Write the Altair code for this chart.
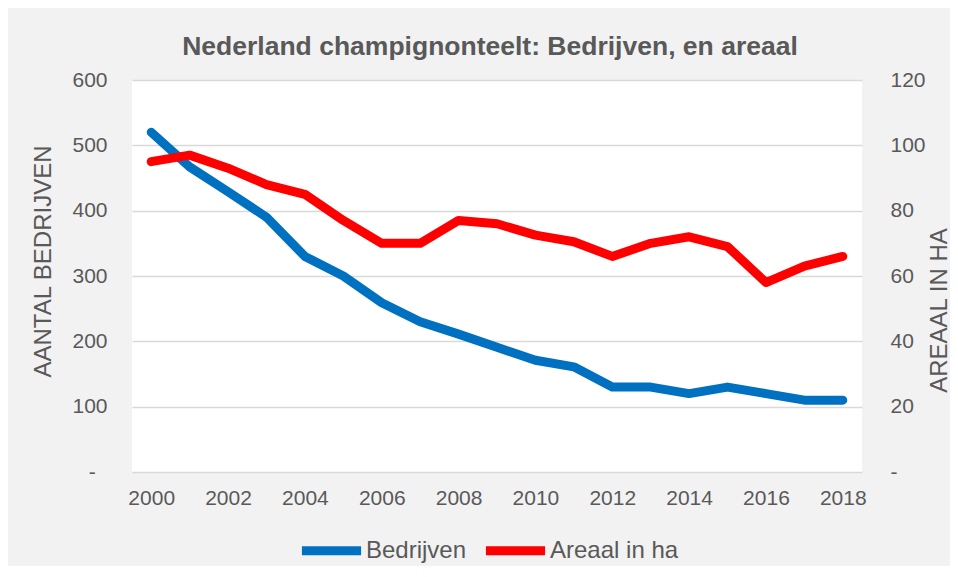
import altair as alt
import pandas as pd

years = list(range(2000, 2019))
bedrijven = [520, 467, 429, 390, 330, 300, 259, 230, 211, 191, 171, 161, 130, 130, 120, 130, 120, 110, 110]
areaal = [95, 97, 93, 88, 85, 77, 70, 70, 77, 76, 72.5, 70.5, 66, 70, 72, 69, 58, 63, 66]
series_names = ["Bedrijven", "Areaal in ha"]
series_colors = ["#0070c0", "#ff0000"]
x_ticks = list(range(2000, 2019, 2))
left_ticks = [0, 100, 200, 300, 400, 500, 600]
right_ticks = [0, 20, 40, 60, 80, 100, 120]

df = pd.DataFrame({"year": years, "bedrijven": bedrijven, "areaal": areaal})

FONT = "Liberation Sans"
GRAY = "#595959"

color = alt.Color(
    "series:N",
    scale=alt.Scale(domain=series_names, range=series_colors),
    legend=alt.Legend(
        title=None,
        orient="none",
        legendX=165,
        legendY=436,
        direction="horizontal",
        symbolType="stroke",
        symbolStrokeWidth=9,
        symbolSize=3500,
        labelFontSize=24,
        labelFont=FONT,
        labelColor=GRAY,
        labelOffset=0,
        columnPadding=0,
    ),
)

x = alt.X(
    "year:Q",
    scale=alt.Scale(domain=[1999.5, 2018.5], nice=False, zero=False),
    axis=alt.Axis(
        values=x_ticks, format="d", title=None, grid=False, domain=False,
        ticks=False, labelPadding=15, labelFontSize=21, labelColor=GRAY,
        labelFont=FONT,
    ),
)

blue = (
    alt.Chart(df)
    .transform_calculate(series="'Bedrijven'")
    .mark_line(strokeWidth=9, strokeCap="round", strokeJoin="round")
    .encode(
        x=x,
        y=alt.Y(
            "bedrijven:Q",
            scale=alt.Scale(domain=[0, 600], nice=False),
            axis=alt.Axis(
                values=left_ticks, title="AANTAL BEDRIJVEN", orient="left",
                grid=True, gridColor="#d9d9d9", gridWidth=1.5, domain=False,
                ticks=False, labelPadding=25, labelFontSize=21, labelColor=GRAY,
                labelFont=FONT,
                labelExpr="datum.value == 0 ? '-\u00a0\u00a0\u200b' : datum.label",
                titleFontSize=24, titleFontWeight="normal", titleColor=GRAY,
                titleFont=FONT, titleAngle=270, titleX=-89, titleY=181,
                titleAlign="center", titleBaseline="middle",
            ),
        ),
        color=color,
    )
)

red = (
    alt.Chart(df)
    .transform_calculate(series="'Areaal in ha'")
    .mark_line(strokeWidth=9, strokeCap="round", strokeJoin="round")
    .encode(
        x=x,
        y=alt.Y(
            "areaal:Q",
            scale=alt.Scale(domain=[0, 120], nice=False),
            axis=alt.Axis(
                values=right_ticks, title="AREAAL IN HA", orient="right",
                grid=False, domain=False, ticks=False, labelPadding=28,
                labelFontSize=21, labelColor=GRAY, labelFont=FONT,
                labelExpr="datum.value == 0 ? '-' : datum.label",
                titleFontSize=24, titleFontWeight="normal", titleColor=GRAY,
                titleFont=FONT, titleAngle=270, titleX=77, titleY=230,
                titleAlign="center", titleBaseline="middle",
            ),
        ),
        color=color,
    )
)

chart = (
    alt.layer(blue, red)
    .resolve_scale(y="independent")
    .properties(
        width=730,
        height=392,
        title=alt.TitleParams(
            "Nederland champignonteelt: Bedrijven, en areaal",
            fontSize=26.5, font=FONT, fontWeight="bold", color=GRAY,
            anchor="middle", offset=24, baseline="alphabetic", dx=-7, dy=36,
        ),
        autosize=alt.AutoSizeParams(type="none"),
        padding={"left": 124, "top": 72, "right": 88, "bottom": 94},
        background="#f2f2f2",
    )
    .configure_view(fill="white", stroke=None)
)

chart.save("out.html", embed_options={"renderer": "svg", "actions": False})
